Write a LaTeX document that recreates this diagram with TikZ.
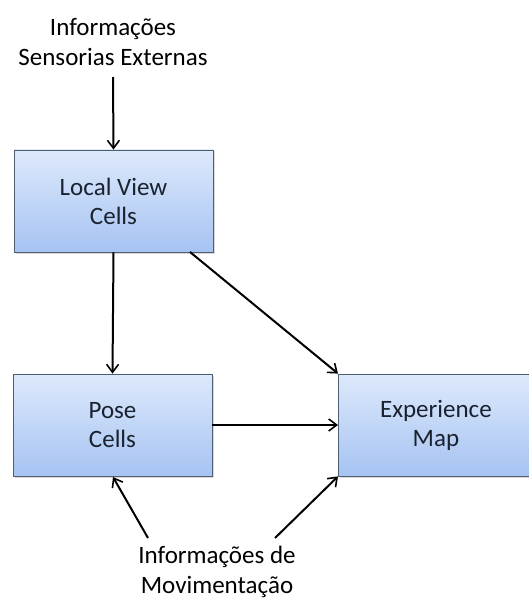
\documentclass[tikz,border=0pt]{standalone}
\usepackage{fontspec}
\setmainfont{Carlito}
\usetikzlibrary{arrows.meta,shadows}
\definecolor{boxtop}{HTML}{DDE9FB}
\definecolor{boxbot}{HTML}{A6C3F2}
\definecolor{boxline}{HTML}{4F5F72}
\definecolor{txt}{HTML}{1A2230}
\tikzset{
  cellbox/.style={draw=boxline, line width=0.8pt, top color=boxtop, bottom color=boxbot,
    minimum width=199pt, minimum height=102pt, inner sep=0pt, align=center,
    font=\fontsize{25}{29}\selectfont, text=txt,
    drop shadow={shadow xshift=1.5pt, shadow yshift=-1.5pt, opacity=0.3}},
  lbl/.style={align=center, font=\fontsize{25}{30}\selectfont, inner sep=0pt},
  arr/.style={-{Straight Barb[length=8pt,width=12pt,line width=1.6pt]}, line width=2pt}
}
\begin{document}
\begin{tikzpicture}[x=1pt,y=-1pt]
\useasboundingbox (0,0) rectangle (528,601);
\node[cellbox] (lv) at (113.5,201) {Local View\\Cells};
\node[cellbox] (pc) at (112.5,425) {Pose\\Cells};
\node[cellbox, anchor=west, minimum width=195pt] (em) at (338,425) {Experience\\Map};
\node[lbl] (ext) at (113,42) {Informações\\Sensorias Externas};
\node[lbl] (mov) at (217,572) {Informações de\\Movimentação};
\coordinate (extend) at (113,77);
\coordinate (m1) at (148,538);
\coordinate (m2) at (275,538);
\draw[arr] (extend) -- (lv.north);
\draw[arr] (lv.south) -- (pc.north);
\draw[arr] (190,252) -- (em.north west);
\draw[arr] (pc.east) -- (em.west);
\draw[arr] (m1) -- (113,477);
\draw[arr] (m2) -- (em.south west);
\end{tikzpicture}
\end{document}
